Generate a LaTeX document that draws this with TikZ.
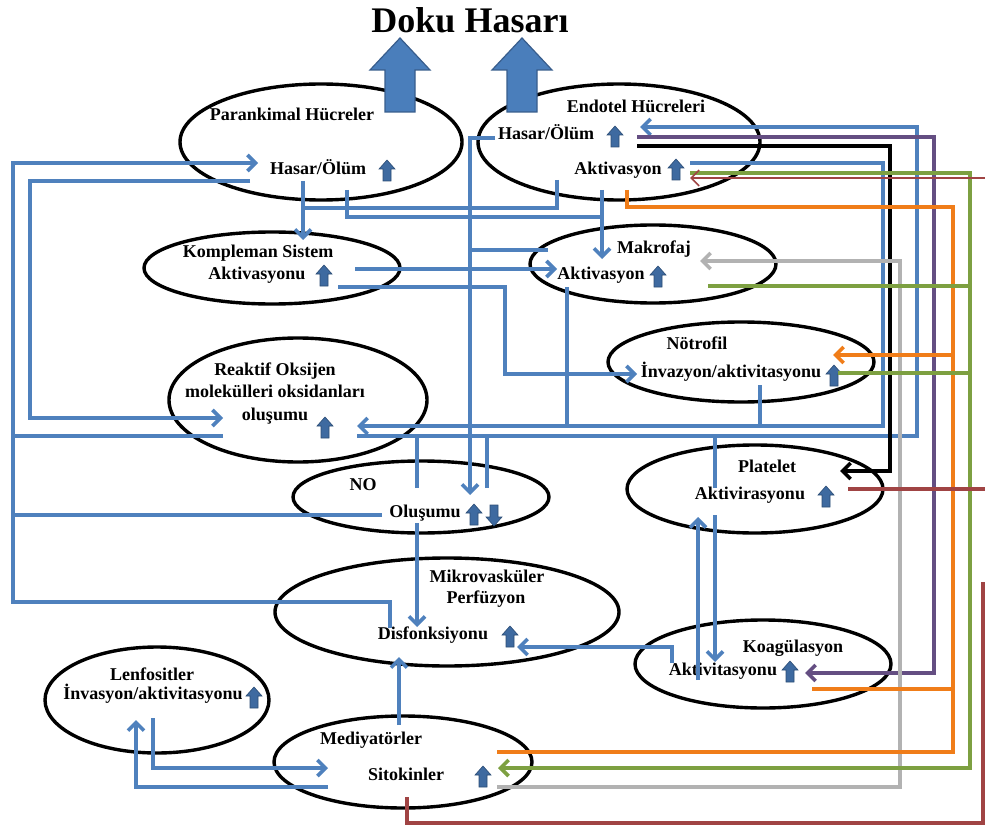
\documentclass[tikz,border=0pt]{standalone}
\usepackage{fontspec}
\setmainfont{Liberation Serif}
\usetikzlibrary{arrows.meta, shapes.geometric}

\definecolor{lineblue}{RGB}{79,129,189}
\definecolor{markblue}{RGB}{62,106,160}
\definecolor{markedge}{RGB}{44,77,117}
\definecolor{bigblue}{RGB}{74,126,187}
\definecolor{bigedge}{RGB}{56,93,140}
\definecolor{lineorange}{RGB}{240,125,25}
\definecolor{linegreen}{RGB}{125,160,65}
\definecolor{linepurple}{RGB}{100,78,130}
\definecolor{linered}{RGB}{160,68,68}
\definecolor{linegray}{RGB}{178,178,178}

\tikzset{
  upmark/.pic={
    \filldraw[fill=markblue, draw=markedge, line width=0.6pt]
      (-4,10) -- (-4,-2) -- (-8,-2) -- (0,-11) -- (8,-2) -- (4,-2) -- (4,10) -- cycle;
  },
  bigup/.pic={
    \filldraw[fill=bigblue, draw=bigedge, line width=1.2pt]
      (-15,0) -- (-15,-42) -- (-30,-42) -- (0,-74) -- (30,-42) -- (15,-42) -- (15,0) -- cycle;
  },
}

\begin{document}
\begin{tikzpicture}[
    x=1pt, y=-1pt,
    >={Straight Barb[length=8pt,width=16pt]},
    cell/.style={draw, ellipse, line width=3.4pt, inner sep=0pt},
    lbl/.style={font=\bfseries\fontsize{18}{21}\selectfont, inner sep=0pt,
      text height=1.5ex, text depth=.3ex},
    conn/.style={line width=3.6pt, draw=lineblue},
    orangeline/.style={conn, draw=lineorange},
    greenline/.style={conn, draw=linegreen},
    purpleline/.style={conn, draw=linepurple},
    blackline/.style={conn, draw=black},
    grayline/.style={conn, draw=linegray},
    redline/.style={conn, draw=linered},
  ]

  \useasboundingbox (0,0) rectangle (985,829);

  \node[font=\bfseries\fontsize{36}{40}\selectfont] (title) at (470,20) {Doku Hasarı};

  % cells
  \node[cell, minimum width=282, minimum height=116] (paren) at (321,142) {};
  \node[cell, minimum width=282, minimum height=116] (endo)  at (619,142) {};
  \node[cell, minimum width=256, minimum height=72]  (komp)  at (272,268) {};
  \node[cell, minimum width=246, minimum height=78]  (makro) at (653,264) {};
  \node[cell, minimum width=266, minimum height=80]  (notro) at (741,362) {};
  \node[cell, minimum width=258, minimum height=124] (ros)   at (298,400) {};
  \node[cell, minimum width=256, minimum height=72]  (no)    at (421,497) {};
  \node[cell, minimum width=256, minimum height=88]  (plt)   at (755,489) {};
  \node[cell, minimum width=344, minimum height=108] (mikro) at (447,612) {};
  \node[cell, minimum width=256, minimum height=88]  (koag)  at (763,664) {};
  \node[cell, minimum width=224, minimum height=106] (lenf)  at (157,700) {};
  \node[cell, minimum width=258, minimum height=92]  (medi)  at (403,762) {};

  \pic at (400,112) {bigup};
  \pic at (522,112) {bigup};

  % labels
  \node[lbl] (parenA) at (292,118) {Parankimal Hücreler};
  \node[lbl] (parenB) at (318,172) {Hasar/Ölüm};
  \node[lbl] (endoA)  at (636,110) {Endotel Hücreleri};
  \node[lbl] (endoB)  at (546,137) {Hasar/Ölüm};
  \node[lbl] (endoC)  at (618,172) {Aktivasyon};
  \node[lbl] (kompA)  at (258,255) {Kompleman Sistem};
  \node[lbl] (kompB)  at (257,277) {Aktivasyonu};
  \node[lbl] (makroA) at (654,251) {Makrofaj};
  \node[lbl] (makroB) at (601,277) {Aktivasyon};
  \node[lbl] (notroA) at (697,347) {Nötrofil};
  \node[lbl] (notroB) at (731,375) {İnvazyon/aktivitasyonu};
  \node[lbl] (rosA)   at (275,373) {Reaktif Oksijen};
  \node[lbl] (rosB)   at (275,395) {molekülleri oksidanları};
  \node[lbl] (rosC)   at (275,418) {oluşumu};
  \node[lbl] (noA)    at (363,488) {NO};
  \node[lbl] (noB)    at (425,515) {Oluşumu};
  \node[lbl] (pltA)   at (767,470) {Platelet};
  \node[lbl] (pltB)   at (750,497) {Aktivirasyonu};
  \node[lbl] (mikroA) at (487,580) {Mikrovasküler};
  \node[lbl] (mikroB) at (486,601) {Perfüzyon};
  \node[lbl] (mikroC) at (433,637) {Disfonksiyonu};
  \node[lbl] (koagA)  at (793,650) {Koagülasyon};
  \node[lbl] (koagB)  at (723,673) {Aktivitasyonu};
  \node[lbl] (lenfA)  at (152,678) {Lenfositler};
  \node[lbl] (lenfB)  at (153,697) {İnvasyon/aktivitasyonu};
  \node[lbl] (mediA)  at (371,742) {Mediyatörler};
  \node[lbl] (mediB)  at (406,778) {Sitokinler};

  % up / down marks
  \pic at (387,171) {upmark};
  \pic at (615,137) {upmark};
  \pic at (676,170) {upmark};
  \pic at (324,276) {upmark};
  \pic at (658,277) {upmark};
  \pic at (834,376) {upmark};
  \pic at (325,428) {upmark};
  \pic at (474,515) {upmark};
  \pic[rotate=180] at (494,515) {upmark};
  \pic at (826,497) {upmark};
  \pic at (510,637) {upmark};
  \pic at (790,672) {upmark};
  \pic at (254,698) {upmark};
  \pic at (483,777) {upmark};

  % ports
  \coordinate (parenIn)    at (258,163);
  \coordinate (parenOutL)  at (250,181);
  \coordinate (parenDown)  at (303,181);
  \coordinate (parenDownB) at (347,190);
  \coordinate (endoIn)     at (640,127);
  \coordinate (endoOutW)   at (495,138);
  \coordinate (endoOutP)   at (637,137);
  \coordinate (endoOutK)   at (637,146);
  \coordinate (endoOutE)   at (690,163);
  \coordinate (endoOutG)   at (690,173);
  \coordinate (endoInR)    at (690,178);
  \coordinate (endoDownA)  at (557,180);
  \coordinate (endoDownB)  at (602,190);
  \coordinate (endoDownC)  at (627,190);
  \coordinate (kompIn)     at (303,240);
  \coordinate (kompOutA)   at (355,269);
  \coordinate (kompOutB)   at (338,287);
  \coordinate (makroIn)    at (602,259);
  \coordinate (makroInW)   at (557,269);
  \coordinate (makroOutW)  at (548,250);
  \coordinate (makroInE)   at (700,261);
  \coordinate (makroOutG)  at (708,286);
  \coordinate (makroDown)  at (567,287);
  \coordinate (notroInE)   at (833,355);
  \coordinate (notroOutG)  at (838,373);
  \coordinate (notroIn)    at (637,374);
  \coordinate (notroDown)  at (760,385);
  \coordinate (rosInL)     at (223,418);
  \coordinate (rosOutL)    at (223,436);
  \coordinate (rosInR)     at (357,426);
  \coordinate (rosOutR)    at (357,436);
  \coordinate (noUpA)      at (417,488);
  \coordinate (noUpB)      at (487,488);
  \coordinate (noIn)       at (470,495);
  \coordinate (noOutL)     at (382,515);
  \coordinate (noDown)     at (417,523);
  \coordinate (pltUp)      at (715,488);
  \coordinate (pltDown)    at (715,515);
  \coordinate (pltIn)      at (698,517);
  \coordinate (pltInE)     at (840,471);
  \coordinate (pltOutE)    at (848,489);
  \coordinate (mikroW)     at (390,628);
  \coordinate (mikroIn)    at (417,627);
  \coordinate (mikroInE)   at (517,647);
  \coordinate (mikroInS)   at (399,657);
  \coordinate (koagIn)     at (715,662);
  \coordinate (koagOutW)   at (672,663);
  \coordinate (koagUp)     at (698,680);
  \coordinate (koagInE)    at (805,673);
  \coordinate (koagOutE)   at (812,689);
  \coordinate (lenfDown)   at (153,718);
  \coordinate (lenfIn)     at (136,720);
  \coordinate (mediUp)     at (399,725);
  \coordinate (mediOutO)   at (497,752);
  \coordinate (mediIn)     at (328,768);
  \coordinate (mediInG)    at (498,768);
  \coordinate (mediOutW)   at (328,787);
  \coordinate (mediOutY)   at (497,787);
  \coordinate (mediDown)   at (407,797);
  \coordinate (orangeJoin) at (953,355);
  \coordinate (edgeA)      at (983,582);
  \coordinate (edgeB)      at (985,489);
  \coordinate (edgeC)      at (985,178);

  % blue connectors
  \draw[conn,->] (mikroW) -- (390,602) -- (13,602) -- (13,163) -- (parenIn);
  \draw[conn] (rosOutL) -- (13,436);
  \draw[conn] (noOutL) -- (13,515);
  \draw[conn,->] (parenOutL) -- (30,181) -- (30,418) -- (rosInL);
  \draw[conn,->] (parenDown) -- (kompIn);
  \draw[conn] (endoDownA) -- (557,208) -- (303,208);
  \draw[conn] (parenDownB) -- (347,217) -- (602,217);
  \draw[conn,->] (endoDownB) -- (makroIn);
  \draw[conn,->] (endoOutW) -- (470,138) -- (noIn);
  \draw[conn] (makroOutW) -- (470,250);
  \draw[conn,->] (kompOutA) -- (makroInW);
  \draw[conn,->] (kompOutB) -- (505,287) -- (505,374) -- (notroIn);
  \draw[conn,->] (endoOutE) -- (883,163) -- (883,426) -- (rosInR);
  \draw[conn] (makroDown) -- (567,426);
  \draw[conn] (notroDown) -- (760,426);
  \draw[conn,->] (rosOutR) -- (917,436) -- (917,127) -- (endoIn);
  \draw[conn] (noUpA) -- (417,436);
  \draw[conn] (noUpB) -- (487,436);
  \draw[conn] (pltUp) -- (715,436);
  \draw[conn,->] (pltDown) -- (koagIn);
  \draw[conn,->] (koagUp) -- (pltIn);
  \draw[conn,->] (koagOutW) -- (672,647) -- (mikroInE);
  \draw[conn,->] (noDown) -- (mikroIn);
  \draw[conn,->] (mediUp) -- (mikroInS);
  \draw[conn,->] (lenfDown) -- (153,768) -- (mediIn);
  \draw[conn,->] (mediOutW) -- (136,787) -- (lenfIn);

  % coloured connectors
  \draw[blackline,->] (endoOutK) -- (890,146) -- (890,471) -- (pltInE);
  \draw[purpleline,->] (endoOutP) -- (934,137) -- (934,673) -- (koagInE);
  \draw[grayline,->] (mediOutY) -- (900,787) -- (900,261) -- (makroInE);
  \draw[orangeline] (endoDownC) -- (627,207) -- (953,207) -- (953,752) -- (mediOutO);
  \draw[orangeline] (koagOutE) -- (953,689);
  \draw[orangeline,->] (orangeJoin) -- (notroInE);
  \draw[greenline,->] (endoOutG) -- (970,173) -- (970,768) -- (mediInG);
  \draw[greenline] (makroOutG) -- (970,286);
  \draw[greenline] (notroOutG) -- (970,373);
  \draw[redline] (mediDown) -- (407,823) -- (983,823) -- (edgeA);
  \draw[redline] (pltOutE) -- (edgeB);
  \draw[redline,line width=1.6pt,->] (edgeC) -- (endoInR);

\end{tikzpicture}
\end{document}
